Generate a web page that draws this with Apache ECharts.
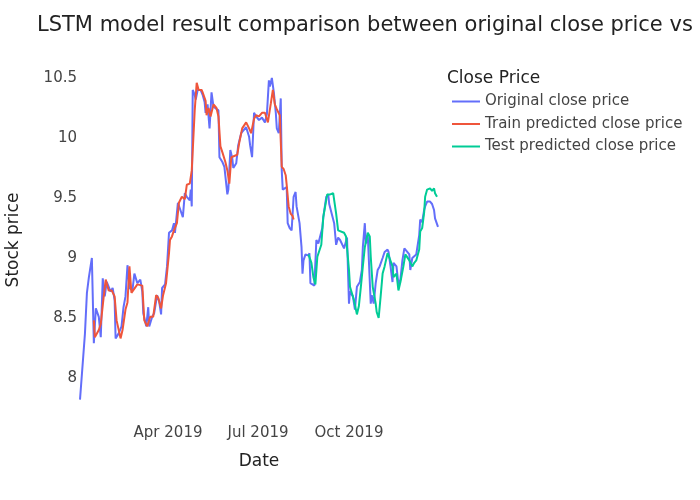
<!DOCTYPE html>
<html>
<head>
<meta charset="utf-8">
<title>LSTM close price comparison</title>
<script src="https://cdn.jsdelivr.net/npm/echarts@6/dist/echarts.min.js"></script>
<style>
    html, body { margin: 0; padding: 0; background: #ffffff; }
    #chart { width: 700px; height: 500px; }
</style>
</head>
<body>
<div id="chart"></div>
<script>
    // x values are day-of-year in 2019
    var origDays = [
        2, 4, 7, 9, 11, 14, 16, 18, 21, 23,
        25, 27, 29, 33, 35, 37, 38, 41, 44, 46,
        48, 50, 52, 55, 57, 60, 63, 65, 66, 69,
        71, 72, 75, 77, 80, 82, 84, 85, 88, 90,
        92, 95, 97, 98, 101, 103, 106, 108, 110, 113,
        114, 115, 116, 118, 119, 121, 124, 126, 128, 129,
        131, 133, 135, 137, 139, 142, 143, 146, 148, 151,
        152, 154, 156, 157, 160, 162, 165, 167, 170, 173,
        174, 176, 178, 180, 183, 186, 189, 191, 193, 194,
        196, 198, 200, 201, 203, 205, 206, 207, 209, 211,
        212, 214, 216, 218, 220, 221, 224, 226, 227, 228,
        230, 233, 234, 235, 237, 239, 241, 243, 245, 247,
        248, 250, 251, 253, 254, 256, 259, 261, 263, 265,
        267, 269, 272, 274, 275, 278, 280, 282, 285, 287,
        288, 290, 291, 293, 295, 296, 297, 299, 301, 303,
        305, 308, 310, 313, 314, 316, 318, 319, 322, 324,
        326, 328, 330, 332, 335, 336, 338, 340, 342, 345,
        346, 348, 350, 351, 353, 355, 356, 358, 360, 361,
        364
    ];
    var origClose = [
        7.82, 8.04, 8.37, 8.71, 8.84, 9.00, 8.29, 8.58, 8.51, 8.34,
        8.83, 8.68, 8.80, 8.72, 8.75, 8.65, 8.33, 8.37, 8.43, 8.59,
        8.68, 8.94, 8.75, 8.73, 8.87, 8.79, 8.82, 8.72, 8.54, 8.43,
        8.59, 8.43, 8.51, 8.54, 8.69, 8.64, 8.53, 8.75, 8.78, 8.93,
        9.21, 9.23, 9.29, 9.21, 9.46, 9.47, 9.34, 9.54, 9.51, 9.48,
        9.57, 9.43, 10.40, 10.36, 10.32, 10.40, 10.40, 10.36, 10.30, 10.21,
        10.28, 10.08, 10.38, 10.26, 10.27, 10.23, 9.84, 9.80, 9.76, 9.53,
        9.57, 9.90, 9.83, 9.75, 9.79, 9.94, 10.04, 10.05, 10.09, 10.01,
        9.94, 9.84, 10.21, 10.18, 10.15, 10.17, 10.13, 10.20, 10.48, 10.43,
        10.50, 10.38, 10.21, 10.08, 10.04, 10.33, 9.73, 9.57, 9.58, 9.59,
        9.29, 9.25, 9.23, 9.51, 9.55, 9.43, 9.29, 9.09, 8.87, 8.98,
        9.03, 9.02, 9.04, 8.79, 8.80, 8.77, 9.15, 9.12, 9.11, 9.25,
        9.34, 9.34, 9.51, 9.53, 9.45, 9.44, 9.29, 9.11, 9.17, 9.15,
        9.14, 9.08, 9.17, 8.62, 8.72, 8.68, 8.57, 8.76, 8.80, 8.90,
        9.09, 9.29, 9.12, 9.19, 9.19, 8.62, 8.69, 8.62, 8.79, 8.90,
        8.93, 9.00, 9.05, 9.07, 9.05, 8.93, 8.80, 8.96, 8.93, 8.78,
        8.82, 8.98, 9.08, 9.07, 9.03, 8.90, 9.00, 9.00, 9.03, 9.19,
        9.32, 9.30, 9.40, 9.43, 9.47, 9.46, 9.47, 9.45, 9.40, 9.33,
        9.26
    ];

    var trainDays = [
        16, 17, 21, 23, 26, 28, 31, 34, 37, 39,
        43, 45, 48, 50, 52, 54, 56, 60, 65, 67,
        70, 73, 76, 79, 81, 84, 86, 89, 92, 93,
        95, 97, 100, 102, 105, 108, 110, 113, 115, 118,
        120, 122, 125, 126, 129, 130, 132, 134, 137, 140,
        142, 144, 146, 149, 151, 153, 155, 157, 161, 163,
        166, 168, 170, 173, 175, 178, 180, 183, 186, 189,
        192, 195, 197, 199, 201, 204, 205, 206, 208, 210,
        211, 213, 215, 217, 218
    ];
    var trainPred = [
        8.48, 8.34, 8.40, 8.45, 8.68, 8.82, 8.73, 8.73, 8.68, 8.48,
        8.33, 8.40, 8.57, 8.63, 8.93, 8.71, 8.71, 8.78, 8.77, 8.48,
        8.43, 8.51, 8.51, 8.69, 8.67, 8.58, 8.69, 8.79, 9.04, 9.15,
        9.18, 9.23, 9.29, 9.46, 9.51, 9.49, 9.61, 9.62, 9.73, 10.23,
        10.46, 10.40, 10.40, 10.38, 10.31, 10.19, 10.25, 10.18, 10.28, 10.25,
        10.18, 9.93, 9.88, 9.80, 9.73, 9.62, 9.84, 9.85, 9.86, 9.96,
        10.08, 10.07, 10.13, 10.08, 10.04, 10.16, 10.19, 10.18, 10.21, 10.21,
        10.13, 10.29, 10.40, 10.28, 10.24, 10.19, 10.20, 9.76, 9.74, 9.69,
        9.61, 9.43, 9.37, 9.35, 9.32
    ];

    var testDays = [
        233, 236, 238, 240, 242, 244, 246, 248, 250, 252,
        255, 258, 259, 261, 263, 265, 269, 271, 274, 275,
        279, 282, 284, 286, 288, 290, 292, 293, 295, 296,
        298, 301, 302, 304, 306, 308, 310, 313, 315, 318,
        319, 322, 324, 326, 329, 331, 333, 335, 338, 340,
        342, 345, 346, 348, 350, 351, 353, 355, 356, 358,
        360, 361, 363
    ];
    var testPred = [
        9.03, 8.96, 8.84, 8.78, 9.01, 9.06, 9.11, 9.34, 9.34, 9.53,
        9.53, 9.54, 9.55, 9.37, 9.23, 9.23, 9.21, 9.18, 8.90, 8.76,
        8.65, 8.53, 8.60, 8.76, 8.93, 9.09, 9.10, 9.21, 9.18, 9.01,
        8.76, 8.62, 8.55, 8.50, 8.68, 8.87, 8.93, 9.04, 9.00, 8.93,
        8.84, 8.87, 8.73, 8.80, 8.93, 9.03, 9.04, 8.98, 8.93, 8.96,
        8.98, 9.07, 9.22, 9.25, 9.38, 9.51, 9.57, 9.56, 9.58, 9.56,
        9.58, 9.54, 9.51
    ];

    var xTickDays = [91, 182, 274];
    var xTickLabels = ['Apr 2019', 'Jul 2019', 'Oct 2019'];
    var yTicks = [8, 8.5, 9, 9.5, 10, 10.5];

    var FONT = '"DejaVu Sans", Verdana, sans-serif';

    // dates as timestamps on a numeric axis
    function dayToTime(d) {
        return Date.UTC(2019, 0, d);
    }
    function toPairs(days, vals) {
        return days.map(function (d, i) { return [dayToTime(d), vals[i]]; });
    }
    var xTickTimes = xTickDays.map(dayToTime);

    var chart = echarts.init(document.getElementById('chart'));

    var option = {
        animation: false,
        backgroundColor: '#ffffff',
        title: [
            {
                text: 'LSTM model result comparison between original close price vs predicted close price',
                left: 37,
                top: 15,
                padding: 0,
                textStyle: { fontFamily: FONT, fontSize: 21, fontWeight: 'normal', color: '#222' }
            },
            {
                text: 'Close Price',
                left: 447,
                top: 70,
                padding: 0,
                textStyle: { fontFamily: FONT, fontSize: 17, fontWeight: 'normal', color: '#222' }
            }
        ],
        legend: {
            orient: 'vertical',
            left: 452,
            top: 94,
            padding: 0,
            icon: 'rect',
            itemWidth: 28,
            itemHeight: 2,
            itemGap: 7.5,
            textStyle: { fontFamily: FONT, fontSize: 15, color: '#444' },
            data: ['Original close price', 'Train predicted close price', 'Test predicted close price']
        },
        grid: { left: 80, right: 262, top: 60, bottom: 80, outerBoundsMode: 'none' },
        xAxis: {
            type: 'value',
            min: dayToTime(origDays[0]),
            max: dayToTime(origDays[origDays.length - 1]),
            name: 'Date',
            nameLocation: 'middle',
            nameGap: 33,
            nameTextStyle: { fontFamily: FONT, fontSize: 17, color: '#222' },
            axisLine: { show: false },
            axisTick: { show: false },
            splitLine: { show: false },
            axisLabel: {
                customValues: xTickTimes,
                formatter: function (v) {
                    var i = xTickTimes.indexOf(v);
                    return i >= 0 ? xTickLabels[i] : '';
                },
                margin: 6,
                fontFamily: FONT,
                fontSize: 15,
                color: '#444'
            }
        },
        yAxis: {
            type: 'value',
            min: 7.65,
            max: 10.65,
            name: 'Stock price',
            nameLocation: 'middle',
            nameGap: 58,
            nameTextStyle: { fontFamily: FONT, fontSize: 17, color: '#222' },
            axisLine: { show: false },
            axisTick: { show: false },
            splitLine: { show: false },
            axisLabel: {
                customValues: yTicks,
                formatter: function (v) { return String(v); },
                margin: 3,
                fontFamily: FONT,
                fontSize: 15,
                color: '#444'
            }
        },
        series: [
            {
                name: 'Original close price',
                type: 'line',
                symbol: 'none',
                data: toPairs(origDays, origClose),
                itemStyle: { color: '#636efa' },
                lineStyle: { color: '#636efa', width: 2 }
            },
            {
                name: 'Train predicted close price',
                type: 'line',
                symbol: 'none',
                data: toPairs(trainDays, trainPred),
                itemStyle: { color: '#ef553b' },
                lineStyle: { color: '#ef553b', width: 2 }
            },
            {
                name: 'Test predicted close price',
                type: 'line',
                symbol: 'none',
                data: toPairs(testDays, testPred),
                itemStyle: { color: '#00cc96' },
                lineStyle: { color: '#00cc96', width: 2 }
            }
        ]
    };
    chart.setOption(option);
</script>
</body>
</html>
